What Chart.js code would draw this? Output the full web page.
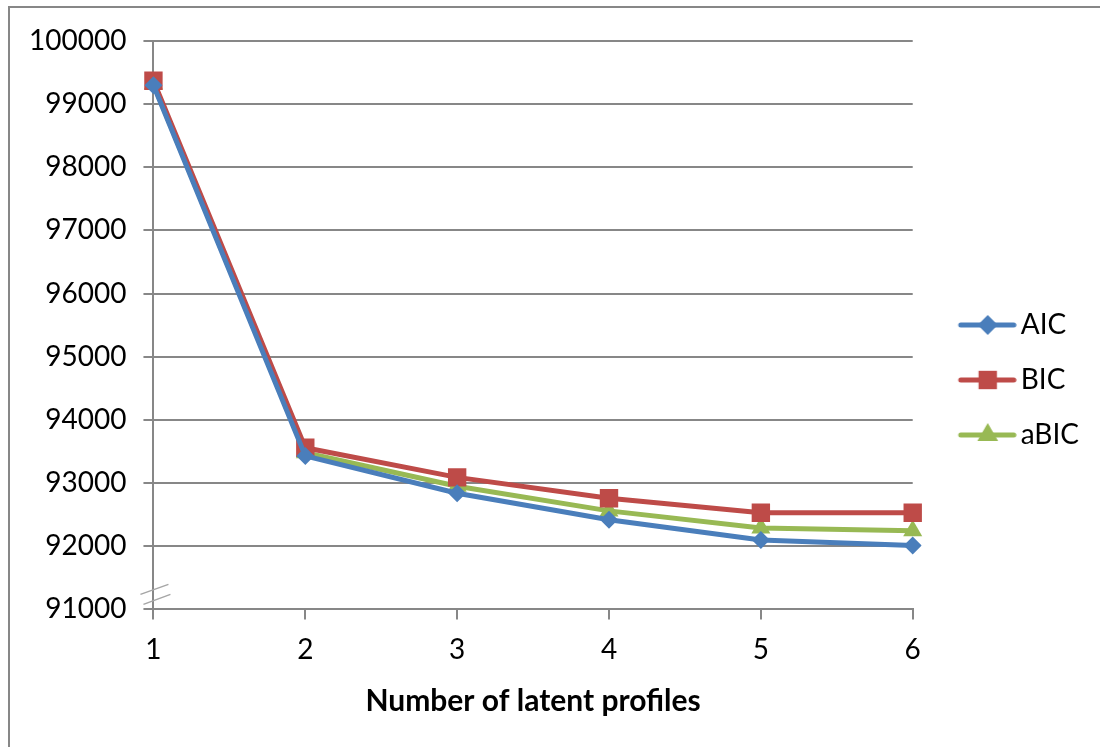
<!DOCTYPE html>
<html>
<head>
<meta charset="utf-8">
<script src="https://cdn.jsdelivr.net/npm/chart.js@4/dist/chart.umd.min.js"></script>
<style>
  body { margin: 0; background: #fff; }
  canvas { display: block; }
</style>
</head>
<body>
<canvas id="ic_chart" width="1100" height="747"></canvas>
<script>
var profiles = ["1", "2", "3", "4", "5", "6"];
var aic_values = [99300, 93430, 92840, 92420, 92100, 92010];
var bic_values = [99370, 93560, 93090, 92760, 92530, 92530];
var abic_values = [99320, 93480, 92950, 92560, 92290, 92245];
var y_min = 91000, y_max = 100000, y_step = 1000;

var blue = "#4a7ebb", red = "#be4b48", green = "#98b954";
var grid_gray = "#878787";

// legend symbol: short line with the marker on it (left part kept empty for spacing)
function legend_symbol(color, style, radius) {
    var c = document.createElement("canvas");
    c.width = 87; c.height = 30;
    var ctx = c.getContext("2d");
    ctx.strokeStyle = color;
    ctx.fillStyle = color;
    ctx.lineWidth = 5;
    ctx.lineCap = "round";
    ctx.beginPath();
    ctx.moveTo(31, 15);
    ctx.lineTo(84, 15);
    ctx.stroke();
    Chart.helpers.drawPoint(ctx, {pointStyle: style, radius: radius, rotation: 0, borderWidth: 0}, 58, 15);
    return c;
}

var axis_break = {
    id: "axis_break",
    beforeDraw: function(chart) {
        var ctx = chart.ctx;
        ctx.save();
        ctx.strokeStyle = grid_gray;
        ctx.lineWidth = 2;
        ctx.strokeRect(9, 7, 1200, 900);
        ctx.restore();
    },
    afterDraw: function(chart) {
        var ctx = chart.ctx;
        var x = chart.scales.x.getPixelForValue(0);
        var y = chart.scales.y.getPixelForValue(y_min);
        ctx.save();
        ctx.strokeStyle = "#a6a6a6";
        ctx.lineWidth = 1.5;
        ctx.beginPath();
        ctx.moveTo(x - 13, y - 15); ctx.lineTo(x + 15, y - 25);
        ctx.moveTo(x - 10, y - 5); ctx.lineTo(x + 17, y - 15);
        ctx.stroke();
        ctx.restore();
    }
};

var ic_chart = new Chart(document.getElementById("ic_chart"), {
    type: "line",
    data: {
        labels: profiles,
        datasets: [
            {label: "AIC", data: aic_values, borderColor: blue, backgroundColor: blue,
             pointStyle: "rectRot", pointRadius: 9, pointBorderWidth: 0},
            {label: "BIC", data: bic_values, borderColor: red, backgroundColor: red,
             pointStyle: "rect", pointRadius: 13, pointBorderWidth: 0},
            {label: "aBIC", data: abic_values, borderColor: green, backgroundColor: green,
             pointStyle: "triangle", pointRadius: 11, pointBorderWidth: 0}
        ]
    },
    options: {
        responsive: false,
        animation: false,
        elements: {line: {borderWidth: 5, tension: 0}},
        layout: {padding: {left: 12, right: 11, top: 41, bottom: 28}},
        plugins: {
            tooltip: {enabled: false},
            legend: {
                position: "right",
                labels: {
                    usePointStyle: true,
                    pointStyleWidth: 67,
                    padding: 27,
                    color: "#000",
                    font: {family: "Lato", size: 28},
                    generateLabels: function(chart) {
                        var styles = [["rectRot", 10], ["rect", 13], ["triangle", 12]];
                        return chart.data.datasets.map(function(ds, i) {
                            return {
                                text: ds.label,
                                pointStyle: legend_symbol(ds.borderColor, styles[i][0], styles[i][1]),
                                fillStyle: ds.borderColor,
                                strokeStyle: ds.borderColor,
                                lineWidth: 0,
                                hidden: false,
                                datasetIndex: i
                            };
                        });
                    }
                }
            }
        },
        scales: {
            x: {
                offset: false,
                grid: {drawOnChartArea: false, drawTicks: true, tickLength: 10, color: grid_gray, lineWidth: 2},
                border: {color: grid_gray, width: 2},
                ticks: {color: "#000", padding: 14, font: {family: "Lato", size: 28}},
                title: {
                    display: true,
                    text: "Number of latent profiles",
                    color: "#000",
                    font: {family: "Lato", size: 30, weight: "bold"},
                    padding: {top: 2, bottom: 0}
                }
            },
            y: {
                min: y_min,
                max: y_max,
                grid: {color: grid_gray, lineWidth: 2, tickLength: 10},
                border: {color: grid_gray, width: 2},
                ticks: {stepSize: y_step, color: "#000", padding: 17, font: {family: "Lato", size: 28},
                        callback: function(v) { return String(v); }}
            }
        }
    },
    plugins: [axis_break]
});
</script>
</body>
</html>
